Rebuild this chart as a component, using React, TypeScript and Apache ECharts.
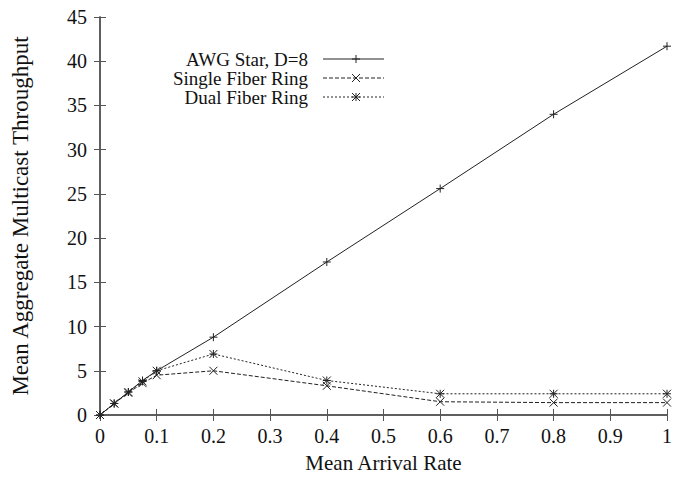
import React, { useEffect, useRef } from "react";
import * as echarts from "echarts";

const arrivalRates = [0, 0.025, 0.05, 0.075, 0.1, 0.2, 0.4, 0.6, 0.8, 1.0];
const awgStar = [0, 1.3, 2.6, 3.9, 5.0, 8.8, 17.3, 25.6, 34.0, 41.7];
const singleFiber = [0, 1.3, 2.5, 3.6, 4.5, 5.0, 3.3, 1.5, 1.4, 1.4];
const dualFiber = [0, 1.3, 2.6, 3.8, 5.0, 6.9, 3.9, 2.4, 2.4, 2.4];
const seriesNames = ["AWG Star, D=8", "Single Fiber Ring", "Dual Fiber Ring"];

const FONT = "'Liberation Serif', 'DejaVu Serif', serif";
const AXIS_COLOR = "#555";
const LINE_COLOR = "#222";

const PLUS = "path://M0,-5L0,5M-5,0L5,0";
const CROSS = "path://M-5,-5L5,5M-5,5L5,-5";
const STAR = "path://M0,-5L0,5M-5,0L5,0M-5,-5L5,5M-5,5L5,-5";

const pairs = (ys: number[]) => arrivalRates.map((x, i) => [x, ys[i]]);

export default function App() {
  const ref = useRef<HTMLDivElement>(null);

  useEffect(() => {
    if (!ref.current) return;
    const chart = echarts.init(ref.current, undefined, { renderer: "svg" });

    const grid = { left: 100, right: 17, top: 17, bottom: 65 };
    const tickStyle = { show: true, inside: true, length: 6, lineStyle: { color: AXIS_COLOR } };
    const axisLine = { show: true, lineStyle: { color: AXIS_COLOR, width: 1.5 } };
    const label = { fontFamily: FONT, fontSize: 20, color: "#111" };

    const mkSeries = (name: string, data: number[], symbol: string, size: number, dash: any) => ({
      name,
      type: "line",
      data: pairs(data),
      symbol,
      symbolSize: size,
      showSymbol: true,
      lineStyle: { color: LINE_COLOR, width: 1, type: dash },
      itemStyle: { color: "transparent", borderColor: LINE_COLOR, borderWidth: 1 },
      emphasis: { disabled: true },
      z: 3,
    });

    // legend rows, drawn by hand so the labels are right-aligned before the sample line
    const rows = [59, 78, 97];
    const legendGraphics: any[] = [];
    const lx0 = 323, lx1 = 384, mx = 356, ms = 4;
    rows.forEach((y, i) => {
      legendGraphics.push({
        type: "text",
        x: 308,
        y,
        style: { text: seriesNames[i], font: `19px ${FONT}`, fill: "#111", align: "right", verticalAlign: "middle" },
      });
      legendGraphics.push({
        type: "line",
        shape: { x1: lx0, y1: y, x2: lx1, y2: y },
        style: { stroke: LINE_COLOR, lineWidth: 1, lineDash: i === 0 ? null : i === 1 ? [4, 2] : [2, 2] },
      });
      if (i === 0 || i === 2) {
        legendGraphics.push({ type: "line", shape: { x1: mx, y1: y - ms, x2: mx, y2: y + ms }, style: { stroke: LINE_COLOR, lineWidth: 1 } });
        legendGraphics.push({ type: "line", shape: { x1: mx - ms, y1: y, x2: mx + ms, y2: y }, style: { stroke: LINE_COLOR, lineWidth: 1 } });
      }
      if (i === 1 || i === 2) {
        legendGraphics.push({ type: "line", shape: { x1: mx - ms, y1: y - ms, x2: mx + ms, y2: y + ms }, style: { stroke: LINE_COLOR, lineWidth: 1 } });
        legendGraphics.push({ type: "line", shape: { x1: mx - ms, y1: y + ms, x2: mx + ms, y2: y - ms }, style: { stroke: LINE_COLOR, lineWidth: 1 } });
      }
    });

    chart.setOption({
      animation: false,
      backgroundColor: "#fff",
      grid,
      xAxis: [
        {
          type: "value",
          min: 0,
          max: 1,
          interval: 0.1,
          position: "bottom",
          name: "Mean Arrival Rate",
          nameLocation: "middle",
          nameGap: 37,
          nameTextStyle: { fontFamily: FONT, fontSize: 21, color: "#111" },
          axisLine,
          axisTick: tickStyle,
          axisLabel: { ...label, margin: 11 },
          splitLine: { show: false },
        },
        {
          type: "value",
          min: 0,
          max: 1,
          interval: 0.1,
          position: "top",
          axisLine,
          axisTick: tickStyle,
          axisLabel: { show: false },
          splitLine: { show: false },
        },
      ],
      yAxis: [
        {
          type: "value",
          min: 0,
          max: 45,
          interval: 5,
          position: "left",
          name: "Mean Aggregate Multicast Throughput",
          nameLocation: "middle",
          nameGap: 68,
          nameRotate: 90,
          nameTextStyle: { fontFamily: FONT, fontSize: 23, color: "#111" },
          axisLine,
          axisTick: tickStyle,
          axisLabel: { ...label, margin: 13 },
          splitLine: { show: false },
        },
        {
          type: "value",
          min: 0,
          max: 45,
          interval: 5,
          position: "right",
          axisLine,
          axisTick: tickStyle,
          axisLabel: { show: false },
          splitLine: { show: false },
        },
      ],
      series: [
        mkSeries(seriesNames[0], awgStar, PLUS, 8, "solid"),
        mkSeries(seriesNames[1], singleFiber, CROSS, 8, [4, 2]),
        mkSeries(seriesNames[2], dualFiber, STAR, 8, [2, 2]),
      ],
      graphic: legendGraphics,
    });

    return () => chart.dispose();
  }, []);

  return <div ref={ref} style={{ width: 684, height: 480, position: "absolute", left: 0, top: 0 }} />;
}
